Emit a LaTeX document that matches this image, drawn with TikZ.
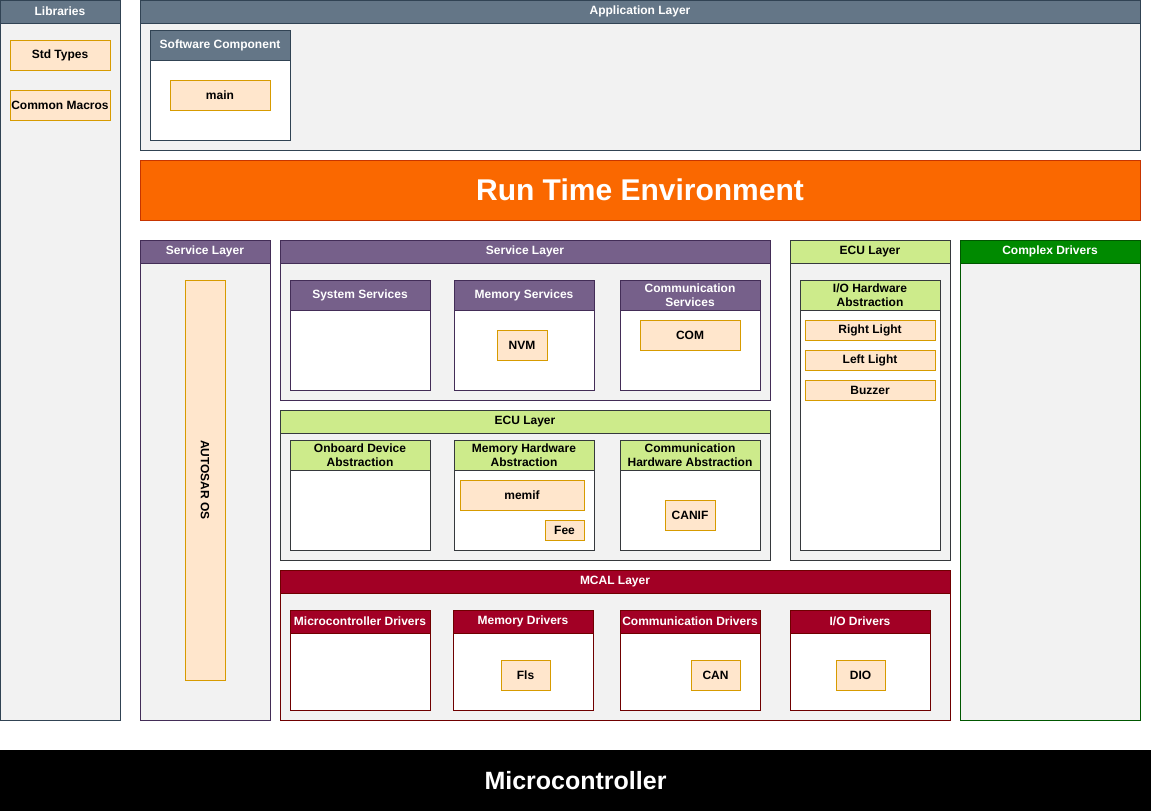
\documentclass[tikz,border=0pt]{standalone}
\usepackage{fontspec}
\setmainfont{Liberation Sans}
\definecolor{bodyG}{HTML}{F2F2F2}
\definecolor{blueF}{HTML}{647687}
\definecolor{blueS}{HTML}{314354}
\definecolor{purpF}{HTML}{76608A}
\definecolor{purpS}{HTML}{432D57}
\definecolor{grnF}{HTML}{CDEB8B}
\definecolor{grnS}{HTML}{36393D}
\definecolor{dgrnF}{HTML}{008A00}
\definecolor{dgrnS}{HTML}{005700}
\definecolor{redF}{HTML}{A20025}
\definecolor{redS}{HTML}{6F0000}
\definecolor{rteF}{HTML}{FA6800}
\definecolor{rteS}{HTML}{C73500}
\definecolor{peachF}{HTML}{FFE6CC}
\definecolor{peachS}{HTML}{D79B00}
\tikzset{
  every node/.style={font=\bfseries\fontsize{12}{13.5}\selectfont, inner sep=0pt, outer sep=0pt},
  box/.style={anchor=north west, line width=1pt},
  blue body/.style={draw=blueS},
  blue head/.style={draw=blueS, fill=blueF, text=white},
  purp body/.style={draw=purpS},
  purp head/.style={draw=purpS, fill=purpF, text=white},
  grn body/.style={draw=grnS},
  grn head/.style={draw=grnS, fill=grnF, text=black},
  dgrn body/.style={draw=dgrnS},
  dgrn head/.style={draw=dgrnS, fill=dgrnF, text=white},
  red body/.style={draw=redS},
  red head/.style={draw=redS, fill=redF, text=white},
  chipbox/.style={box, draw=peachS, fill=peachF, text=black},
}
% name, x, y, w, h, header height, theme, body fill, title
\newcommand{\lane}[9]{%
  \node[box, #7 body, fill=#8, minimum width=#4pt, minimum height=#5pt] (#1) at (#2,#3) {};
  \node[box, #7 head, minimum width=#4pt, minimum height=#6pt, align=center] (#1-h) at (#2,#3) {#9};
}
% name, x, y, w, h, text
\newcommand{\chip}[6]{%
  \node[chipbox, minimum width=#4pt, minimum height=#5pt] (#1) at (#2,#3) {#6};
}
\begin{document}
\begin{tikzpicture}[x=1pt,y=-1pt]
\useasboundingbox (0,0) rectangle (1151,811);
% Libraries
\lane{lib}{0}{0}{120}{720}{23}{blue}{bodyG}{Libraries}
\chip{std}{10}{40}{100}{30}{Std Types}
\chip{macros}{10}{90}{100}{30}{Common Macros}
% Application layer
\lane{app}{140}{0}{1000}{150}{23}{blue}{bodyG}{Application Layer}
\lane{swc}{150}{30}{140}{110}{30}{blue}{white}{Software Component}
\chip{main}{170}{80}{100}{30}{main}
% RTE
\node[box, draw=rteS, fill=rteF, text=white, minimum width=1000pt, minimum height=60pt,
      font=\bfseries\fontsize{30}{36}\selectfont] (rte) at (140,160) {Run Time Environment};
% Service layer (OS)
\lane{svcl}{140}{240}{130}{480}{23}{purp}{bodyG}{Service Layer}
\chip{os}{185}{280}{40}{400}{}
\node[rotate=-90, text=black] (oslabel) at (os.center) {AUTOSAR OS};
% Service layer
\lane{svc}{280}{240}{490}{160}{23}{purp}{bodyG}{Service Layer}
\lane{sys}{290}{280}{140}{110}{30}{purp}{white}{System Services}
\lane{mems}{454}{280}{140}{110}{30}{purp}{white}{Memory Services}
\chip{nvm}{497}{330}{50}{30}{NVM}
\lane{coms}{620}{280}{140}{110}{30}{purp}{white}{Communication\\Services}
\chip{com}{640}{320}{100}{30}{COM}
% ECU layer
\lane{ecu}{280}{410}{490}{150}{23}{grn}{bodyG}{ECU Layer}
\lane{onb}{290}{440}{140}{110}{30}{grn}{white}{Onboard Device\\Abstraction}
\lane{memhw}{454}{440}{140}{110}{30}{grn}{white}{Memory Hardware\\Abstraction}
\chip{memif}{460}{480}{124}{30}{memif}
\chip{fee}{545}{520}{39}{20}{Fee}
\lane{comhw}{620}{440}{140}{110}{30}{grn}{white}{Communication\\Hardware Abstraction}
\chip{canif}{665}{500}{50}{30}{CANIF}
% ECU layer (IO)
\lane{ecur}{790}{240}{160}{320}{23}{grn}{bodyG}{ECU Layer}
\lane{iohw}{800}{280}{140}{270}{30}{grn}{white}{I/O Hardware\\Abstraction}
\chip{rl}{805}{320}{130}{20}{Right Light}
\chip{ll}{805}{350}{130}{20}{Left Light}
\chip{bz}{805}{380}{130}{20}{Buzzer}
% Complex drivers
\lane{cdd}{960}{240}{180}{480}{23}{dgrn}{bodyG}{Complex Drivers}
% MCAL
\lane{mcal}{280}{570}{670}{150}{23}{red}{bodyG}{MCAL Layer}
\lane{mcu}{290}{610}{140}{100}{23}{red}{white}{Microcontroller Drivers}
\lane{memd}{453}{610}{140}{100}{23}{red}{white}{Memory Drivers}
\chip{fls}{501}{660}{49}{30}{Fls}
\lane{comd}{620}{610}{140}{100}{23}{red}{white}{Communication Drivers}
\chip{can}{691}{660}{49}{30}{CAN}
\lane{iod}{790}{610}{140}{100}{23}{red}{white}{I/O Drivers}
\chip{dio}{836}{660}{49}{30}{DIO}
% Microcontroller
\node[box, fill=black, text=white, minimum width=1151pt, minimum height=61pt,
      font=\bfseries\fontsize{25}{30}\selectfont] (mc) at (0,750) {Microcontroller};
\end{tikzpicture}
\end{document}
